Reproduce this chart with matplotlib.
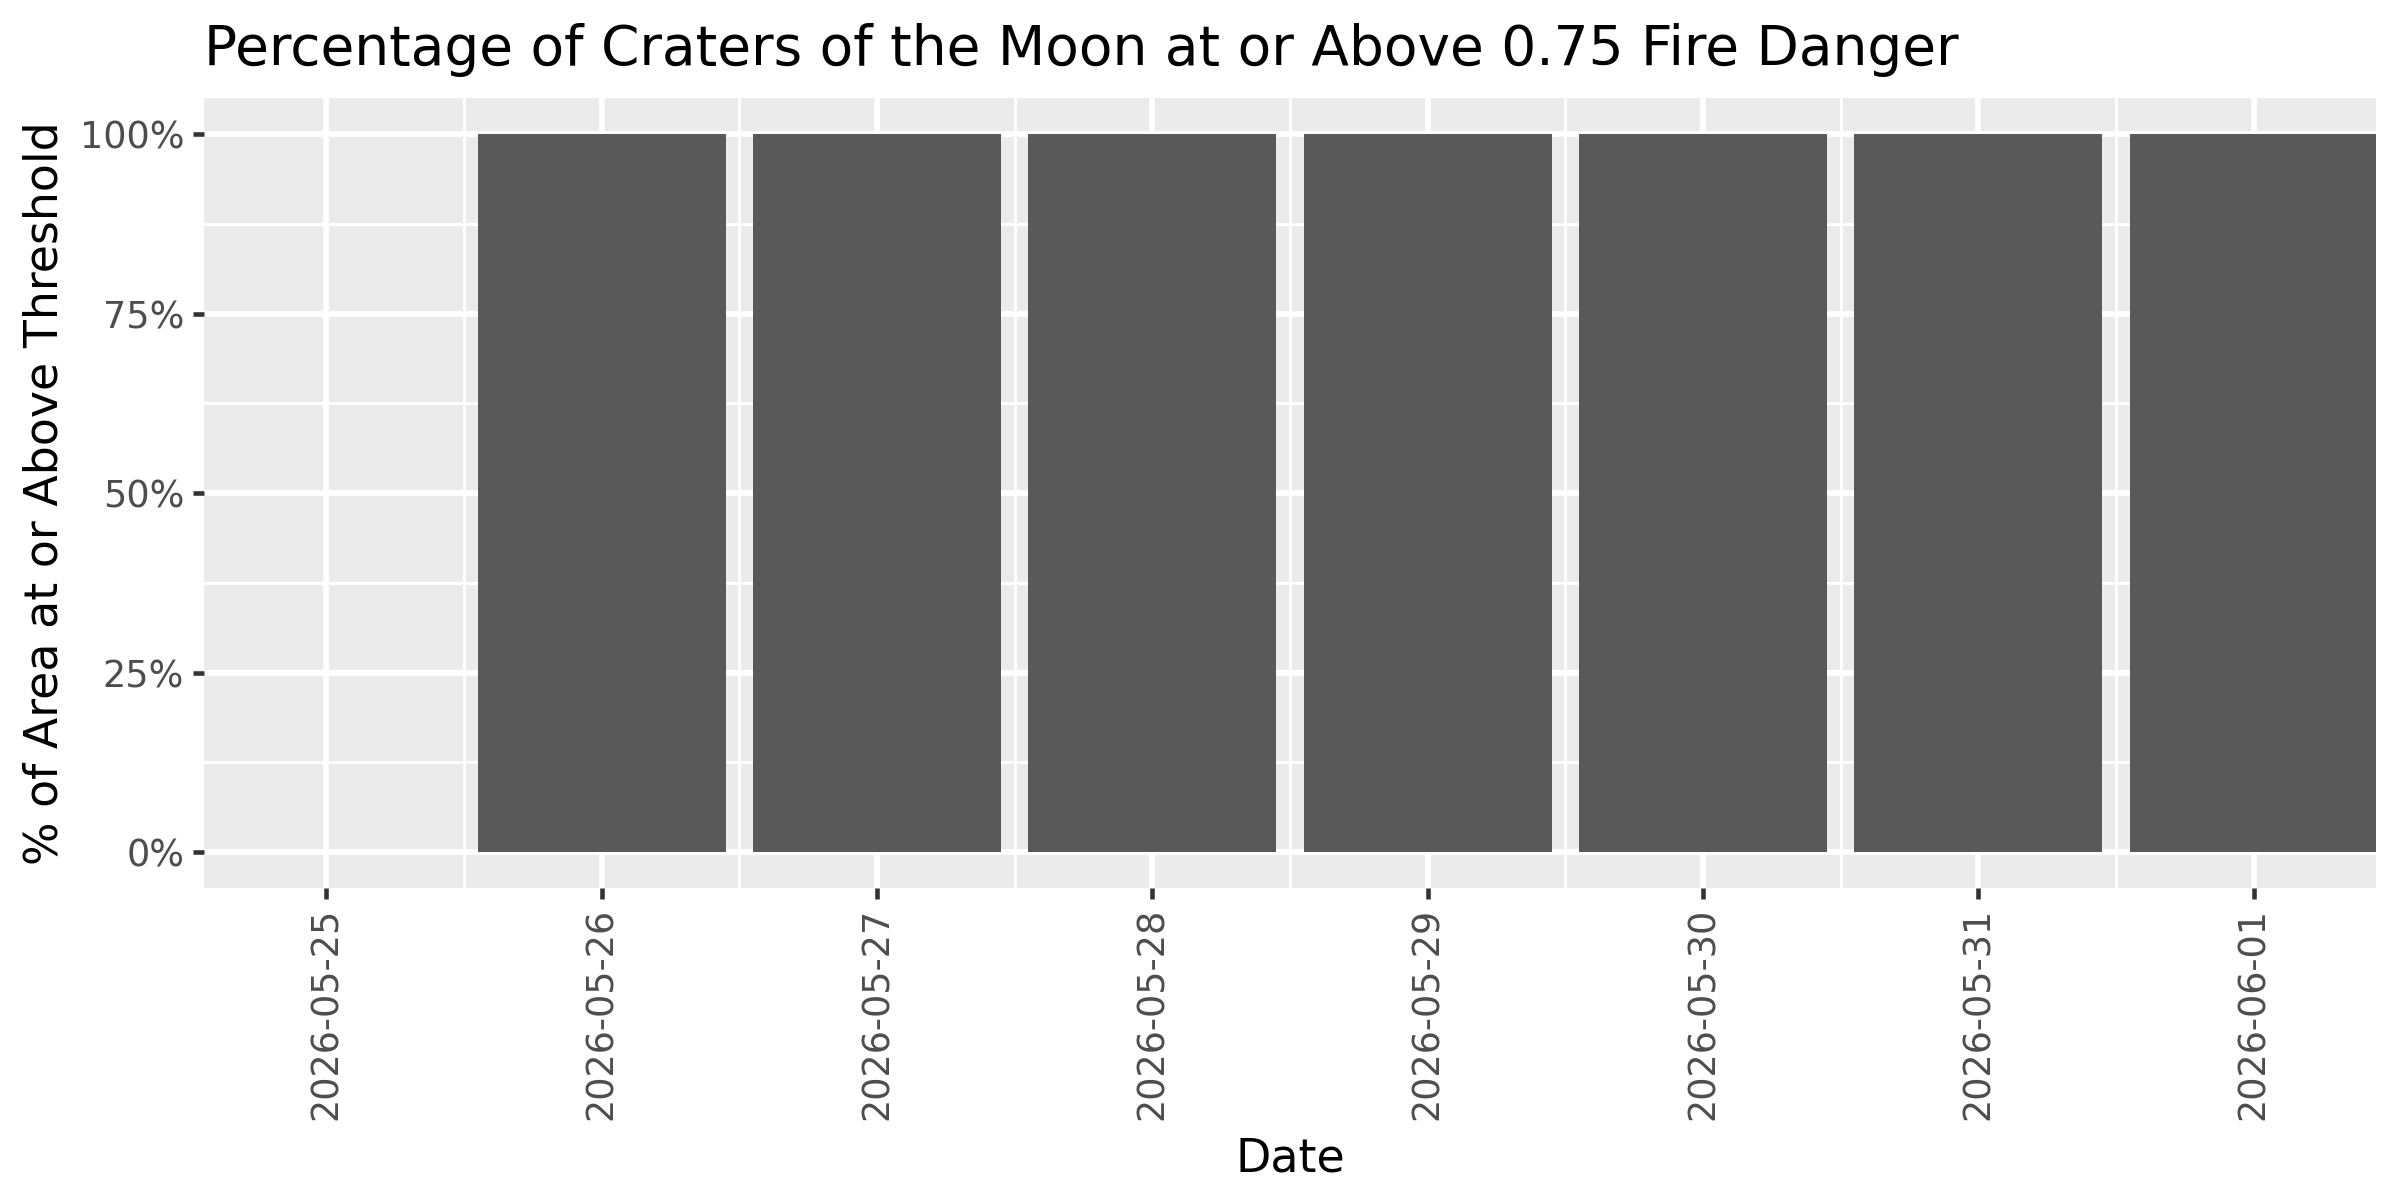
import matplotlib
matplotlib.use("Agg")
import matplotlib.pyplot as plt
import matplotlib.dates as mdates
from matplotlib.ticker import PercentFormatter, MultipleLocator
import pandas as pd

# Data
dates = ["2026-05-25", "2026-05-26", "2026-05-27", "2026-05-28",
         "2026-05-29", "2026-05-30", "2026-05-31", "2026-06-01"]
pct_above = [0, 100, 100, 100, 100, 100, 100, 100]

x = pd.to_datetime(dates)

plt.rcParams["font.family"] = ["DejaVu Sans"]

fig, ax = plt.subplots(figsize=(8, 4), dpi=300)
fig.subplots_adjust(left=0.085, right=0.99, top=0.918, bottom=0.26)

ax.set_facecolor("#EBEBEB")
ax.bar(x, pct_above, width=0.9, color="#595959", zorder=3)

# ggplot-ish grid
ax.set_axisbelow(True)
ax.grid(which="major", color="white", linewidth=1.4)
ax.grid(which="minor", color="white", linewidth=0.7)
for s in ax.spines.values():
    s.set_visible(False)

ax.set_xticks(x)
ax.xaxis.set_major_formatter(mdates.DateFormatter("%Y-%m-%d"))
ax.xaxis.set_minor_locator(mdates.HourLocator(byhour=12))
ax.set_xlim(x[0] - pd.Timedelta(days=0.444), x[-1] + pd.Timedelta(days=0.444))

ax.set_ylim(-5, 105)
ax.yaxis.set_major_locator(MultipleLocator(25))
ax.yaxis.set_minor_locator(MultipleLocator(12.5))
ax.yaxis.set_major_formatter(PercentFormatter(decimals=0))

ax.tick_params(which="major", length=2.75, width=1.1, color="#333333",
               labelsize=8.8, labelcolor="#4D4D4D", pad=2)
ax.tick_params(which="minor", length=0)
plt.setp(ax.get_xticklabels(), rotation=90, ha="center", va="top")

ax.set_xlabel("Date", fontsize=11, labelpad=4)
ax.set_ylabel("% of Area at or Above Threshold", fontsize=11, labelpad=3)
ax.set_title("Percentage of Craters of the Moon at or Above 0.75 Fire Danger",
             loc="left", fontsize=13.2, pad=8)

fig.savefig("out.png", dpi=300)
